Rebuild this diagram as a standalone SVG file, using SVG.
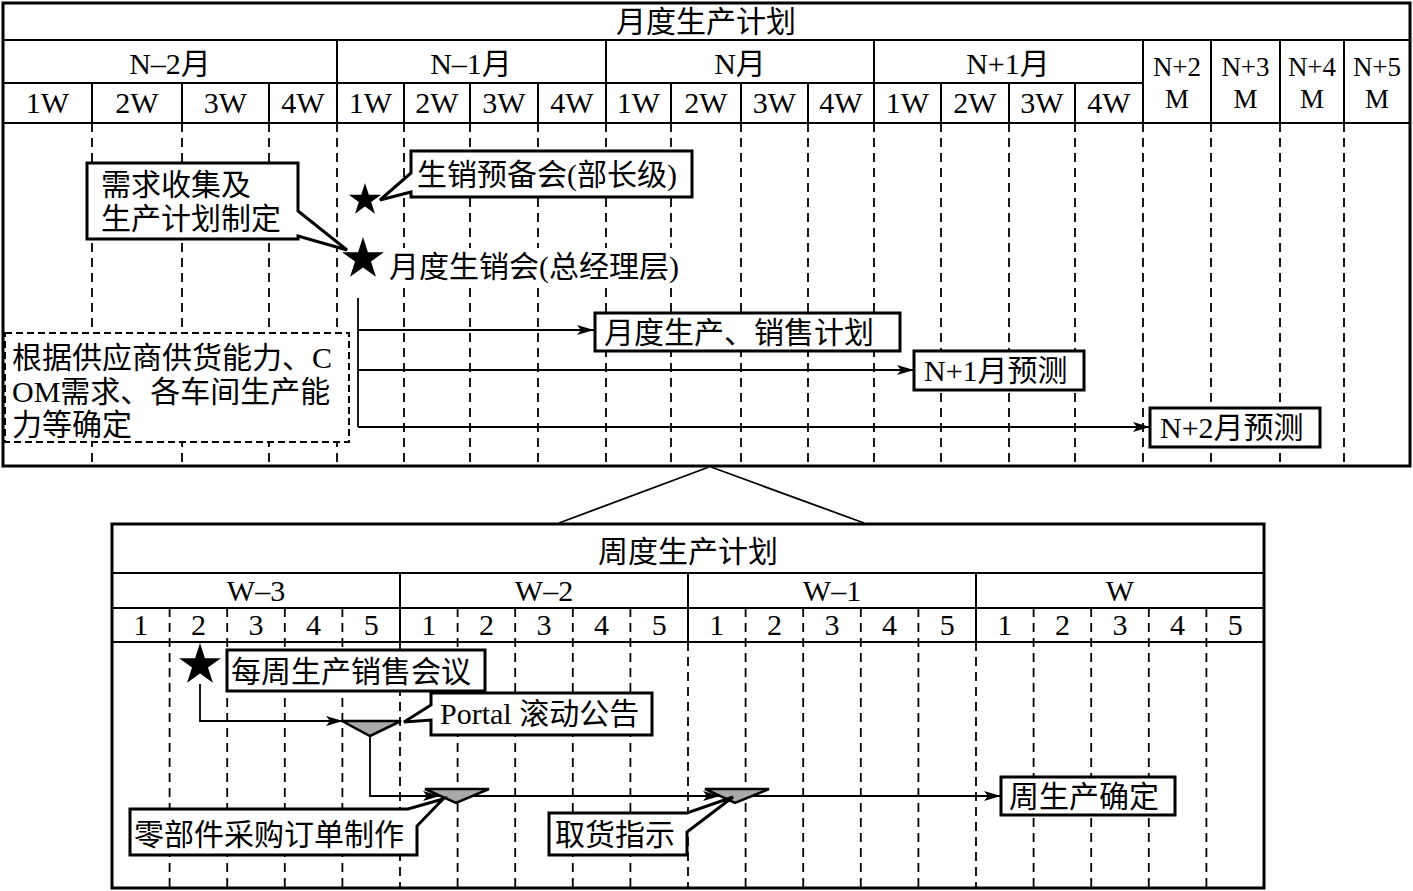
<svg xmlns="http://www.w3.org/2000/svg" xmlns:xlink="http://www.w3.org/1999/xlink" width="1413" height="891" viewBox="0 0 1413 891">
<style>
.ln{stroke:#000;stroke-width:2;fill:none}
.ol{stroke:#000;stroke-width:3;fill:none}
.da{stroke:#000;stroke-width:1.8;stroke-dasharray:9 6;fill:none}
.box{fill:#fff;stroke:#000;stroke-width:3;stroke-linejoin:miter}
.dbox{fill:#fff;stroke:#000;stroke-width:2;stroke-dasharray:7 4}
.t{font-family:"Liberation Serif","Noto Sans CJK SC",serif;font-size:30px;fill:#000}
.s{font-size:27px}
.c{text-anchor:middle}
.conn{stroke:#000;stroke-width:1.8;fill:none;marker-end:url(#arr)}
.plain{stroke:#000;stroke-width:1.8;fill:none}
.tri{fill:#a9a9a9;stroke:#000;stroke-width:2.5;stroke-linejoin:miter}
.star{fill:#000}
</style>
<defs>
<marker id="arr" markerUnits="userSpaceOnUse" markerWidth="18" markerHeight="10" refX="17" refY="5" orient="auto">
<path d="M0,0 L17,5 L0,10 L4,5 Z" fill="#000"/>
</marker>
<path id="star" d="M0,-10 L2.245,-3.09 L9.511,-3.09 L3.633,1.18 L5.878,8.09 L0,3.82 L-5.878,8.09 L-3.633,1.18 L-9.511,-3.09 L-2.245,-3.09 Z"/>
</defs>
<rect width="1413" height="891" fill="#fff"/>

<!-- Monthly table -->
<g id="monthly-table">
<g class="da">
<path d="M92,123V466M182,123V466M269,123V466M337,123V466M404,123V466M470,123V466M538,123V466M606,123V466M671,123V466M741,123V466M808,123V466M874,123V466M941,123V466M1009,123V466M1075,123V466M1143,123V466M1211,123V466M1280,123V466M1344,123V466"/>
</g>
<path class="ln" d="M3,40H1410M3,123H1410M3,83H1143M337,40V123M606,40V123M874,40V123M1143,40V123M1211,40V123M1280,40V123M1344,40V123M92,83V123M182,83V123M269,83V123M404,83V123M470,83V123M538,83V123M671,83V123M741,83V123M808,83V123M941,83V123M1009,83V123M1075,83V123"/>
<rect class="ol" x="3" y="3" width="1407" height="463"/>
<text class="t c" x="706" y="32">月度生产计划</text>
<text class="t c" x="170" y="74">N–2月</text>
<text class="t c" x="471" y="74">N–1月</text>
<text class="t c" x="740" y="74">N月</text>
<text class="t c" x="1008" y="74">N+1月</text>
<text class="t s c" x="1177" y="76">N+2</text><text class="t s c" x="1177" y="108">M</text>
<text class="t s c" x="1245.5" y="76">N+3</text><text class="t s c" x="1245.5" y="108">M</text>
<text class="t s c" x="1312" y="76">N+4</text><text class="t s c" x="1312" y="108">M</text>
<text class="t s c" x="1377" y="76">N+5</text><text class="t s c" x="1377" y="108">M</text>
<g class="t c">
<text x="47.5" y="113">1W</text><text x="137" y="113">2W</text><text x="225.5" y="113">3W</text><text x="303" y="113">4W</text>
<text x="370.5" y="113">1W</text><text x="437" y="113">2W</text><text x="504" y="113">3W</text><text x="572" y="113">4W</text>
<text x="638.5" y="113">1W</text><text x="706" y="113">2W</text><text x="774.5" y="113">3W</text><text x="841" y="113">4W</text>
<text x="907.5" y="113">1W</text><text x="975" y="113">2W</text><text x="1042" y="113">3W</text><text x="1109" y="113">4W</text>
</g>
</g>

<!-- Weekly table -->
<g id="weekly-table">
<path class="da" d="M169.6,608V888M227.2,608V888M284.8,608V888M342.4,608V888M457.6,608V888M515.2,608V888M572.8,608V888M630.4,608V888M745.6,608V888M803.2,608V888M860.8,608V888M918.4,608V888M1033.6,608V888M1091.2,608V888M1148.8,608V888M1206.4,608V888M400,642V888M688,642V888M976,642V888"/>
<path class="ln" d="M112,573H1264M112,608H1264M112,642H1264M400,573V642M688,573V642M976,573V642"/>
<rect class="ol" x="112" y="524" width="1152" height="364"/>
<text class="t c" x="688" y="562">周度生产计划</text>
<text class="t c" x="256" y="601">W–3</text>
<text class="t c" x="544" y="601">W–2</text>
<text class="t c" x="832" y="601">W–1</text>
<text class="t c" x="1120" y="601">W</text>
<g class="t c">
<text x="140.8" y="635">1</text><text x="198.4" y="635">2</text><text x="256" y="635">3</text><text x="313.6" y="635">4</text><text x="371.2" y="635">5</text>
<text x="428.8" y="635">1</text><text x="486.4" y="635">2</text><text x="544" y="635">3</text><text x="601.6" y="635">4</text><text x="659.2" y="635">5</text>
<text x="716.8" y="635">1</text><text x="774.4" y="635">2</text><text x="832" y="635">3</text><text x="889.6" y="635">4</text><text x="947.2" y="635">5</text>
<text x="1004.8" y="635">1</text><text x="1062.4" y="635">2</text><text x="1120" y="635">3</text><text x="1177.6" y="635">4</text><text x="1235.2" y="635">5</text>
</g>
</g>

<!-- Connectors -->
<g id="connectors">
<path class="plain" d="M709,467L559,523M711,467L864,523"/>
<path class="plain" d="M358,298V427"/>
<path class="conn" d="M358,330H594"/>
<path class="conn" d="M358,370H914"/>
<path class="conn" d="M358,427H1150"/>
<path class="conn" d="M200,684V721H343"/>
<path class="conn" d="M370,736V796H440"/>
<path class="conn" d="M456,796H720"/>
<path class="conn" d="M735,796H1001"/>
</g>

<!-- Monthly nodes -->
<g id="star-prep"><use xlink:href="#star" class="star" transform="translate(365,200) scale(1.7)"/></g>
<g id="star-monthly"><use xlink:href="#star" class="star" transform="translate(363,259) scale(2.2)"/></g>
<g id="callout-prep">
<path class="box" d="M411,151H692V197H411V192L380,200L411,173Z"/>
<text class="t" x="417" y="185">生销预备会(部长级)</text>
</g>
<g id="callout-demand">
<path class="box" d="M87,163H298V211L347,250L298,236V239H87Z"/>
<text class="t" x="101" y="195">需求收集及</text>
<text class="t" x="101" y="229">生产计划制定</text>
</g>
<g id="label-monthly">
<rect x="386" y="248" width="306" height="38" fill="#fff"/>
<text class="t" x="389" y="277">月度生销会(总经理层)</text>
</g>
<g id="note-basis">
<rect class="dbox" x="5" y="333" width="344" height="109"/>
<text class="t" x="12" y="368">根据供应商供货能力、C</text>
<text class="t" x="12" y="402">OM需求、各车间生产能</text>
<text class="t" x="12" y="435">力等确定</text>
</g>
<g id="box-plan">
<rect class="box" x="595" y="313" width="305" height="38"/>
<text class="t" x="604" y="343">月度生产、销售计划</text>
</g>
<g id="box-n1">
<rect class="box" x="914" y="351" width="170" height="39"/>
<text class="t" x="924" y="381">N+1月预测</text>
</g>
<g id="box-n2">
<rect class="box" x="1150" y="408" width="170" height="39"/>
<text class="t" x="1160" y="438">N+2月预测</text>
</g>

<!-- Weekly nodes -->
<g id="star-weekly"><use xlink:href="#star" class="star" transform="translate(200,665) scale(2.2)"/></g>
<g id="box-weekly-meeting">
<rect class="box" x="227" y="650" width="258" height="41"/>
<text class="t" x="231" y="682">每周生产销售会议</text>
</g>
<g id="tri-portal"><polygon class="tri" points="342,721 401,721 370,736"/></g>
<g id="callout-portal">
<path class="box" d="M431,693H652V735H431V720L404,722L431,705Z"/>
<text class="t" x="440" y="724">Portal 滚动公告</text>
</g>
<g id="tri-order"><polygon class="tri" points="425,789 489,789 456,803"/></g>
<g id="callout-order">
<path class="box" d="M130,809H408L443,799L417,826V855H130Z"/>
<text class="t" x="134" y="845">零部件采购订单制作</text>
</g>
<g id="tri-pickup"><polygon class="tri" points="705,789 769,789 735,803"/></g>
<g id="callout-pickup">
<path class="box" d="M549,813H687L733,797L687,832V855H549Z"/>
<text class="t" x="555" y="845">取货指示</text>
</g>
<g id="box-confirm">
<rect class="box" x="1001" y="777" width="174" height="38"/>
<text class="t" x="1009" y="807">周生产确定</text>
</g>
</svg>
